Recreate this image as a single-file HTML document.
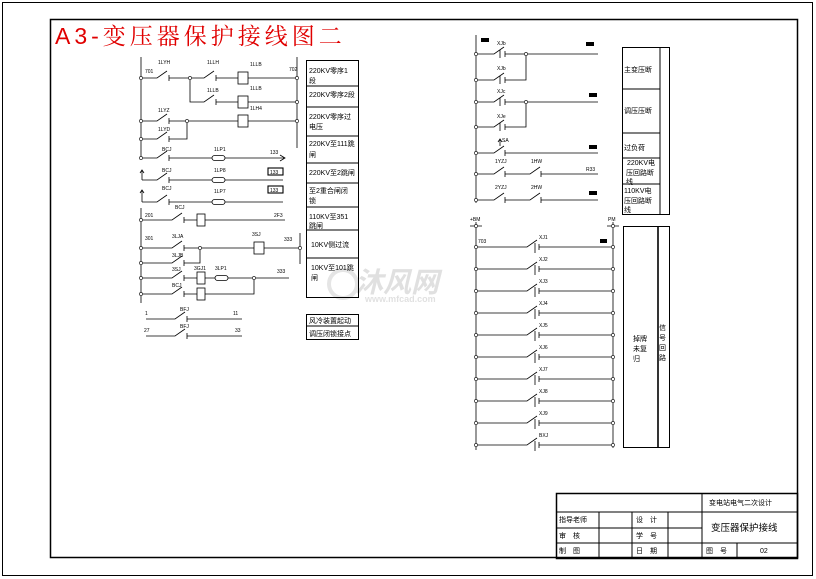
<!DOCTYPE html>
<html><head><meta charset="utf-8"><style>
html,body{margin:0;padding:0;background:#fff;}
svg{display:block;}
text{font-family:"Liberation Sans","Noto Sans CJK SC",sans-serif;fill:#000;}
.s{font-size:5px;}
.t{font-size:7px;}
</style></head><body>
<svg width="816" height="579" viewBox="0 0 816 579" xmlns="http://www.w3.org/2000/svg">
<rect x="0" y="0" width="816" height="579" fill="#fff"/>
<rect x="2.5" y="2.5" width="810" height="573" fill="none" stroke="#000" stroke-width="1"/>
<rect x="50.5" y="19.5" width="747" height="538" fill="none" stroke="#000" stroke-width="1.5"/>
<text x="55" y="44" style="font-size:23px;fill:#e00000;font-family:'Liberation Sans','Noto Serif CJK SC',serif;letter-spacing:4px">A3-变压器保护接线图二</text>

<g opacity="0.25">
<text x="355" y="292" style="font-size:28px;fill:#888;font-weight:bold;font-style:italic">沐风网</text>
<text x="365" y="302" style="font-size:9px;fill:#888;font-weight:bold">www.mfcad.com</text>
<circle cx="343" cy="284" r="14" fill="none" stroke="#999" stroke-width="4"/>
</g>

<g stroke="#000" stroke-width="0.8" fill="none">
<path d="M141,57V160 M142,180V170 M142,202V190 M141,208V303 M297,57V148 M300,233V264"/>
<path d="M141,78H157 L167,71 M169,75V81 M169,78H190 M190,78H204 L214,71 M216,75V81 M216,78H238 M248,78H297"/>
<rect x="238" y="72" width="10" height="12" fill="#fff"/>
<path d="M190,78V102H204 L214,95 M216,99V105 M216,102H238 M248,102H297"/>
<rect x="238" y="96" width="10" height="12" fill="#fff"/>
<path d="M141,121H157 L167,114 M169,118V124 M169,121H238 M248,121H297"/>
<rect x="238" y="115" width="10" height="12" fill="#fff"/>
<path d="M141,139H157 L167,132 M169,136V142 M169,139H187V121"/>
<path d="M141,158H157 L167,151 M169,155V161 M169,158H284 M280,155L285,158L280,161"/>
<path d="M142,180H157 L167,173 M169,177V183 M169,180H283 M140,173L142,170L144,173"/>
<path d="M142,202H157 L167,195 M169,199V205 M169,202H283 M140,193L142,190L144,193"/>
<rect x="212" y="155.5" width="13" height="5" rx="2.5" fill="#fff"/>
<rect x="212" y="177.5" width="13" height="5" rx="2.5" fill="#fff"/>
<rect x="212" y="199.5" width="13" height="5" rx="2.5" fill="#fff"/>
<rect x="268" y="168" width="15" height="7" stroke-width="1.1"/>
<rect x="268" y="186" width="15" height="7" stroke-width="1.1"/>
<path d="M141,220H172 L182,213 M184,217V223 M184,220H285"/>
<rect x="197" y="214" width="8" height="12" fill="#fff"/>
<path d="M141,248H172 L182,241 M184,245V251 M184,248H300"/>
<rect x="254" y="242" width="10" height="12" fill="#fff"/>
<path d="M141,263H172 L182,256 M184,260V266 M184,263H200V248"/>
<path d="M141,278H172 L182,271 M184,275V281 M184,278H289"/>
<rect x="197" y="272" width="8" height="12" fill="#fff"/>
<rect x="215" y="275.5" width="13" height="5" rx="2.5" fill="#fff"/>
<path d="M141,294H172 L182,287 M184,291V297 M184,294H254V278"/>
<rect x="197" y="288" width="8" height="12" fill="#fff"/>
<path d="M146,319H175 L185,312 M187,316V322 M187,319H242"/>
<path d="M146,336H175 L185,329 M187,333V339 M187,336H242"/>
</g>
<g fill="#fff" stroke="#000" stroke-width="0.6">
<circle cx="141" cy="78" r="1.6"/><circle cx="141" cy="121" r="1.6"/><circle cx="141" cy="139" r="1.6"/><circle cx="141" cy="158" r="1.6"/>
<circle cx="141" cy="220" r="1.6"/><circle cx="141" cy="248" r="1.6"/><circle cx="141" cy="263" r="1.6"/><circle cx="141" cy="278" r="1.6"/><circle cx="141" cy="294" r="1.6"/>
<circle cx="190" cy="78" r="1.6"/><circle cx="187" cy="121" r="1.6"/><circle cx="200" cy="248" r="1.6"/><circle cx="254" cy="278" r="1.6"/>
<circle cx="297" cy="78" r="1.6"/><circle cx="297" cy="102" r="1.6"/><circle cx="297" cy="121" r="1.6"/><circle cx="300" cy="248" r="1.6"/>
</g>
<g class="s">
<text x="145" y="73">701</text><text x="158" y="64">1LYH</text><text x="207" y="64">1LLH</text><text x="250" y="66">1LLB</text><text x="289" y="71">702</text>
<text x="207" y="92">1LLB</text><text x="250" y="90">1LLB</text>
<text x="158" y="112">1LYZ</text><text x="250" y="110">1LH4</text><text x="158" y="131">1LYD</text>
<text x="162" y="151">BCJ</text><text x="214" y="151">1LP1</text><text x="270" y="154">133</text>
<text x="162" y="172">BCJ</text><text x="214" y="172">1LP8</text><text x="270" y="174">133</text>
<text x="162" y="190">BCJ</text><text x="214" y="193">1LP7</text><text x="270" y="192">133</text>
<text x="145" y="217">201</text><text x="175" y="209">BCJ</text><text x="274" y="217">2F3</text>
<text x="145" y="240">301</text><text x="172" y="238">3LJA</text><text x="252" y="236">3SJ</text><text x="284" y="241">333</text>
<text x="172" y="257">3LJB</text><text x="172" y="271">3SJ</text><text x="194" y="270">3GJ1</text><text x="215" y="270">3LP1</text><text x="277" y="273">333</text><text x="172" y="287">BCJ</text>
<text x="145" y="315">1</text><text x="180" y="311">BFJ</text><text x="233" y="315">11</text>
<text x="144" y="332">27</text><text x="180" y="328">BFJ</text><text x="235" y="332">33</text>
</g>
<g stroke="#000" stroke-width="1" fill="none">
<rect x="306.5" y="60.5" width="52" height="237"/>
<path d="M306,86H359 M306,107H359 M306,136H359 M306,163H359 M306,183H359 M306,207H359 M306,230H359 M306,258H359"/>
<rect x="306.5" y="314.5" width="52" height="25"/><path d="M306,326H359"/>
</g>
<g class="t">
<text x="309" y="73">220KV零序1</text><text x="309" y="83">段</text>
<text x="309" y="97">220KV零序2段</text>
<text x="309" y="119">220KV零序过</text><text x="309" y="129">电压</text>
<text x="309" y="146">220KV至111跳</text><text x="309" y="157">闸</text>
<text x="309" y="175">220KV至2跳闸</text>
<text x="309" y="193">至2重合闸闭</text><text x="309" y="203">锁</text>
<text x="309" y="219">110KV至351</text><text x="309" y="228">跳闸</text>
<text x="311" y="247">10KV侧过流</text>
<text x="311" y="270">10KV至101跳</text><text x="311" y="280">闸</text>
<text x="309" y="323">风冷装置起动</text><text x="309" y="336">调压闭锁接点</text>
</g>

<g stroke="#000" stroke-width="0.8" fill="none">
<path d="M476,35V203"/>
<path d="M476,54H494 L504,47 M500,50V58 M505,51V57 M505,54H598"/>
<path d="M476,80H494 L504,73 M500,76V84 M505,77V83 M505,80H526V54"/>
<path d="M476,102H494 L504,95 M500,98V106 M505,99V105 M505,102H598"/>
<path d="M476,127H494 L504,120 M500,123V131 M505,124V130 M505,127H526V102"/>
<path d="M476,153H494 L504,146 M505,150V156 M505,153H598 M500,146V140 M498,142L500,139L502,142"/>
<path d="M476,174H494 L504,167 M505,171V177 M505,174H530 L540,167 M541,171V177 M541,174H598"/>
<path d="M476,200H494 L504,193 M505,197V203 M505,200H530 L540,193 M541,197V203 M541,200H598"/>
</g>
<g fill="#000"><rect x="481" y="38" width="8" height="4"/><rect x="586" y="42" width="8" height="4"/><rect x="589" y="93" width="8" height="4"/><rect x="589" y="145" width="8" height="4"/><rect x="589" y="191" width="8" height="4"/><rect x="600" y="239" width="7" height="4"/></g>
<g fill="#fff" stroke="#000" stroke-width="0.6">
<circle cx="476" cy="54" r="1.6"/><circle cx="476" cy="80" r="1.6"/><circle cx="476" cy="102" r="1.6"/><circle cx="476" cy="127" r="1.6"/><circle cx="476" cy="153" r="1.6"/><circle cx="476" cy="174" r="1.6"/><circle cx="476" cy="200" r="1.6"/>
<circle cx="526" cy="54" r="1.6"/><circle cx="526" cy="102" r="1.6"/>
</g>
<g class="s">
<text x="497" y="45">XJb</text><text x="497" y="70">XJb</text><text x="497" y="93">XJc</text><text x="497" y="118">XJe</text><text x="502" y="142">SA</text>
<text x="495" y="163">1YZJ</text><text x="531" y="163">1HW</text><text x="586" y="171">R33</text>
<text x="495" y="189">2YZJ</text><text x="531" y="189">2HW</text>
</g>
<g stroke="#000" stroke-width="1" fill="none">
<rect x="622.5" y="47.5" width="47" height="167"/><path d="M660,47V214 M622,89H660 M622,133H660 M622,158H660 M622,184H660"/>
</g>
<g class="t">
<text x="624" y="72">主变压断</text><text x="624" y="113">调压压断</text><text x="624" y="150">过负荷</text>
<text x="627" y="165">220KV电</text><text x="626" y="175">压回路断</text><text x="626" y="184">线</text>
<text x="624" y="193">110KV电</text><text x="624" y="203">压回路断</text><text x="624" y="212">线</text>
</g>

<g stroke="#000" stroke-width="0.8" fill="none">
<path d="M476,222V450 M613,222V448 M470,226H482 M607,226H619"/>
<path d="M476,247H527 L537,240 M535,243V253 M539,244V250 M539,247H613"/>
<path d="M476,269H527 L537,262 M535,265V275 M539,266V272 M539,269H613"/>
<path d="M476,291H527 L537,284 M535,287V297 M539,288V294 M539,291H613"/>
<path d="M476,313H527 L537,306 M535,309V319 M539,310V316 M539,313H613"/>
<path d="M476,335H527 L537,328 M535,331V341 M539,332V338 M539,335H613"/>
<path d="M476,357H527 L537,350 M535,353V363 M539,354V360 M539,357H613"/>
<path d="M476,379H527 L537,372 M535,375V385 M539,376V382 M539,379H613"/>
<path d="M476,401H527 L537,394 M535,397V407 M539,398V404 M539,401H613"/>
<path d="M476,423H527 L537,416 M535,419V429 M539,420V426 M539,423H613"/>
<path d="M476,445H527 L537,438 M535,441V451 M539,442V448 M539,445H613"/>
</g>
<g fill="#fff" stroke="#000" stroke-width="0.6">
<circle cx="476" cy="226" r="1.6"/><circle cx="613" cy="226" r="1.6"/>
<circle cx="476" cy="247" r="1.6"/><circle cx="476" cy="269" r="1.6"/><circle cx="476" cy="291" r="1.6"/><circle cx="476" cy="313" r="1.6"/><circle cx="476" cy="335" r="1.6"/><circle cx="476" cy="357" r="1.6"/><circle cx="476" cy="379" r="1.6"/><circle cx="476" cy="401" r="1.6"/><circle cx="476" cy="423" r="1.6"/><circle cx="476" cy="445" r="1.6"/>
<circle cx="613" cy="247" r="1.6"/><circle cx="613" cy="269" r="1.6"/><circle cx="613" cy="291" r="1.6"/><circle cx="613" cy="313" r="1.6"/><circle cx="613" cy="335" r="1.6"/><circle cx="613" cy="357" r="1.6"/><circle cx="613" cy="379" r="1.6"/><circle cx="613" cy="401" r="1.6"/><circle cx="613" cy="423" r="1.6"/><circle cx="613" cy="445" r="1.6"/>
</g>
<g class="s">
<text x="470" y="221">+BM</text><text x="608" y="221">PM</text><text x="478" y="243">703</text>
<text x="539" y="239">XJ1</text><text x="539" y="261">XJ2</text><text x="539" y="283">XJ3</text><text x="539" y="305">XJ4</text><text x="539" y="327">XJ5</text><text x="539" y="349">XJ6</text><text x="539" y="371">XJ7</text><text x="539" y="393">XJ8</text><text x="539" y="415">XJ9</text><text x="539" y="437">BXJ</text>
</g>
<g stroke="#000" fill="none">
<rect x="623.5" y="226.5" width="46" height="221" stroke-width="1"/><path d="M658,226V448" stroke-width="1.6"/>
</g>
<g class="t">
<text x="633" y="341">掉牌</text><text x="633" y="351">未复</text><text x="633" y="361">归</text>
<text x="659" y="330">信</text><text x="659" y="340">号</text><text x="659" y="350">回</text><text x="659" y="360">路</text>
</g>

<g stroke="#000" fill="none" stroke-width="1">
<rect x="556.5" y="493.5" width="241" height="65" stroke-width="1.5"/>
<path d="M556,512H797 M556,528H702 M556,543H797 M599,512V558 M632,512V558 M668,512V558 M702,493V558 M737,543V558"/>
</g>
<g class="t">
<text x="709" y="505">变电站电气二次设计</text>
<text x="559" y="522">指导老师</text><text x="559" y="538">审　核</text><text x="559" y="553">制　图</text>
<text x="636" y="522">设　计</text><text x="636" y="538">学　号</text><text x="636" y="553">日　期</text>
<text x="711" y="531" style="font-size:9.5px">变压器保护接线</text>
<text x="706" y="553">图　号</text><text x="760" y="553">02</text>
</g>
</svg>
</body></html>
